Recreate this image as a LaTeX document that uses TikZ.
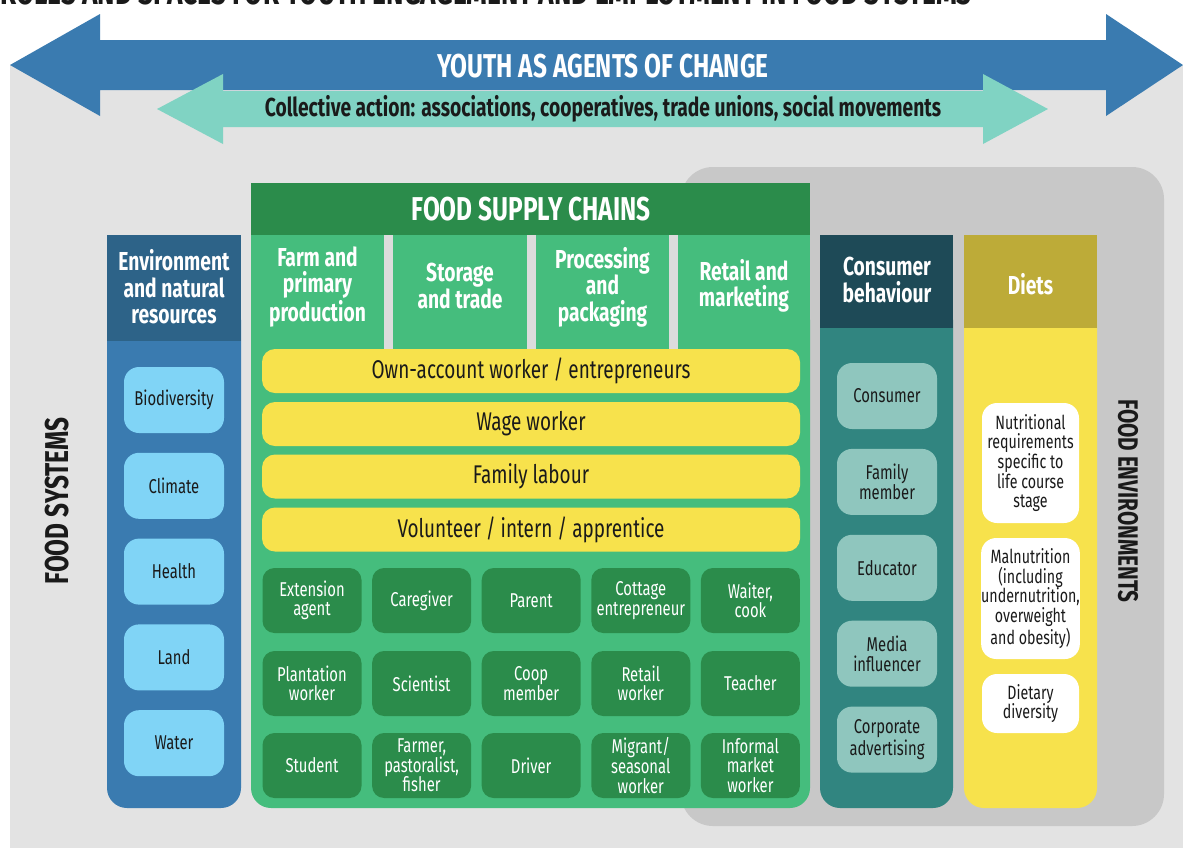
\documentclass[tikz,border=0pt]{standalone}
\usepackage{fontspec}
\setmainfont{Fira Sans}[FakeStretch=0.74]
\usepackage{xcolor}
\definecolor{bggrey}{HTML}{E3E3E3}
\definecolor{fegrey}{HTML}{C8C8C8}
\definecolor{sepgrey}{HTML}{DCDCDC}
\definecolor{youthblue}{HTML}{3A7BB0}
\definecolor{collteal}{HTML}{80D3C3}
\definecolor{envhead}{HTML}{2D6388}
\definecolor{envlight}{HTML}{80D4F6}
\definecolor{fscdark}{HTML}{2B8C4B}
\definecolor{fscgreen}{HTML}{45BD7D}
\definecolor{roleyellow}{HTML}{F7E24C}
\definecolor{conhead}{HTML}{1E4A57}
\definecolor{conbody}{HTML}{318580}
\definecolor{conlight}{HTML}{8FC6BE}
\definecolor{diethead}{HTML}{BDAB38}
\definecolor{inkblack}{HTML}{1A1A1A}

\tikzset{
  headtxt/.style={text=white, align=center, inner sep=0pt, font=\fontsize{13}{13.3}\selectfont\bfseries},
  boxtxt/.style={align=center, inner sep=0pt, font=\fontsize{10}{9.8}\selectfont},
  envbox/.style={boxtxt, fill=envlight, text=inkblack, rounded corners=7.5pt, minimum width=50pt, minimum height=33pt},
  rolebox/.style={boxtxt, fill=fscdark, text=white, rounded corners=6pt, minimum width=49.5pt, minimum height=32.5pt},
  conbox/.style={boxtxt, fill=conlight, text=inkblack, rounded corners=7.5pt, minimum width=50pt, minimum height=33pt},
  dietbox/.style={boxtxt, fill=white, text=inkblack, rounded corners=7.5pt, minimum width=48.5pt,
    font=\fontsize{9.6}{9.8}\selectfont},
  workbar/.style={fill=roleyellow, text=inkblack, rounded corners=6.5pt, minimum width=269pt, minimum height=22pt,
    inner sep=0pt, font=\fontsize{12.8}{14}\selectfont},
  sidetxt/.style={text=inkblack, inner sep=0pt, font=\fontsize{16.5}{17}\selectfont\bfseries}
}

\begin{document}
\begin{tikzpicture}[x=0.5pt, y=-0.5pt]
    \useasboundingbox (0,0) rectangle (1183,848);

    % title, cut by the top edge
    \node[anchor=base west, inner sep=0pt, text=inkblack, font=\fontsize{17.7}{18}\selectfont\bfseries] (title) at (0,4)
        {ROLES AND SPACES FOR YOUTH ENGAGEMENT AND EMPLOYMENT IN FOOD SYSTEMS};

    \fill[bggrey] (10,65) rectangle (1183,848);
    \fill[fegrey, rounded corners=16pt] (681,167) rectangle (1164,826);

    % arrows
    \fill[youthblue] (10,65) -- (100,14) -- (100,40) -- (1106,40) -- (1106,14) -- (1183,65)
        -- (1106,116) -- (1106,90) -- (100,90) -- (100,116) -- cycle;
    \fill[collteal] (157,109) -- (223,74) -- (223,91) -- (983,91) -- (983,74) -- (1048,109)
        -- (983,144) -- (983,127) -- (223,127) -- (223,144) -- cycle;
    \node[text=white, inner sep=0pt, font=\fontsize{16.5}{17}\selectfont\bfseries] (youth) at (603,66) {YOUTH AS AGENTS OF CHANGE};
    \node[text=inkblack, inner sep=0pt, font=\fontsize{13}{13}\selectfont\bfseries] (collective) at (603,109)
        {Collective action: associations, cooperatives, trade unions, social movements};

    \node[sidetxt, rotate=90] (foodsys) at (57,501) {FOOD SYSTEMS};
    \node[sidetxt, rotate=-90, font=\fontsize{14}{14}\selectfont\bfseries] (foodenv) at (1128,501) {FOOD ENVIRONMENTS};

    % environment column
    \fill[youthblue, rounded corners=10pt] (107,300) rectangle (241,808);
    \fill[envhead] (107,235) rectangle (241,341);
    \node[headtxt] (envhd) at (174,287) {Environment\\and natural\\resources};
    \foreach \txt [count=\i] in {Biodiversity, Climate, Health, Land, Water}
        \node[envbox] (env\i) at (174,{400+85.8*(\i-1)}) {\txt};

    % food supply chains
    \fill[fscgreen, rounded corners=10pt] (251,300) rectangle (810,808);
    \fill[fscgreen] (251,235) rectangle (810,349);
    \fill[fscdark] (251,183) rectangle (810,235);
    \node[headtxt, font=\fontsize{16.5}{17}\selectfont\bfseries] (fsc) at (531,209) {FOOD SUPPLY CHAINS};
    \fill[sepgrey] (384,235) rectangle (393,349);
    \fill[sepgrey] (527,235) rectangle (536,349);
    \fill[sepgrey] (669,235) rectangle (678,349);
    \node[headtxt] (farm) at (317.5,287) {Farm and\\primary\\production};
    \node[headtxt] (storage) at (460,286) {Storage\\and trade};
    \node[headtxt] (processing) at (602.5,287) {Processing\\and\\packaging};
    \node[headtxt] (retail) at (744,286) {Retail and\\marketing};

    \node[workbar] (own) at (531,371) {Own-account worker / entrepreneurs};
    \node[workbar] (wage) at (531,424) {Wage worker};
    \node[workbar] (family) at (531,476.5) {Family labour};
    \node[workbar] (volunteer) at (531,529.5) {Volunteer / intern / apprentice};

    \foreach \txt [count=\i] in {Extension\\agent, Caregiver, Parent, Cottage\\entrepreneur, {Waiter,\\cook}}
        \node[rolebox] (roleA\i) at ({312+109.6*(\i-1)},600.5) {\txt};
    \foreach \txt [count=\i] in {Plantation\\worker, Scientist, Coop\\member, Retail\\worker, Teacher}
        \node[rolebox] (roleB\i) at ({312+109.6*(\i-1)},683.5) {\txt};
    \foreach \txt [count=\i] in {Student, {Farmer,\\pastoralist,\\fisher}, Driver, Migrant/\\seasonal\\worker, Informal\\market\\worker}
        \node[rolebox] (roleC\i) at ({312+109.6*(\i-1)},765.5) {\txt};

    % consumer behaviour
    \fill[conbody, rounded corners=10pt] (820,300) rectangle (953,808);
    \fill[conhead] (820,235) rectangle (953,328);
    \node[headtxt] (conhd) at (887,280) {Consumer\\behaviour};
    \foreach \txt [count=\i] in {Consumer, Family\\member, Educator, Media\\influencer, Corporate\\advertising}
        \node[conbox] (con\i) at (887,{396+85.9*(\i-1)}) {\txt};

    % diets
    \fill[roleyellow, rounded corners=10pt] (964,300) rectangle (1097,808);
    \fill[diethead] (964,235) rectangle (1097,328);
    \node[headtxt] (diethd) at (1030.5,284) {Diets};
    \node[dietbox, minimum height=60pt] (diet1) at (1030.5,463) {Nutritional\\requirements\\specific to\\life course\\stage};
    \node[dietbox, minimum height=60.5pt] (diet2) at (1030.5,598.5) {Malnutrition\\(including\\undernutrition,\\overweight\\and obesity)};
    \node[dietbox, minimum height=29.5pt] (diet3) at (1030.5,703.5) {Dietary\\diversity};

\end{tikzpicture}
\end{document}
